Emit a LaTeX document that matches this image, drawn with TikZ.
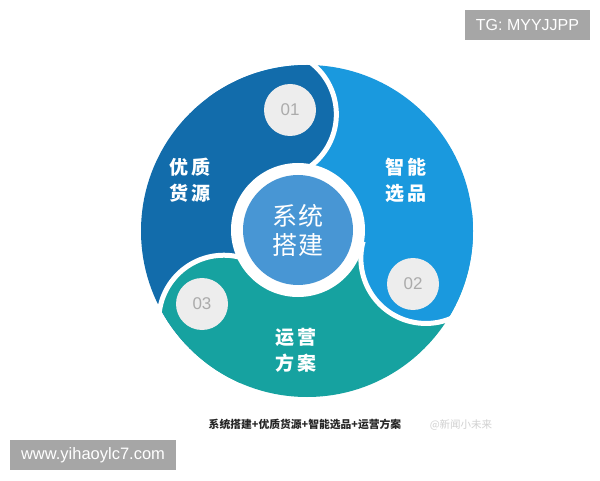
\documentclass[tikz,border=0pt]{standalone}
\usepackage{fontspec}
\setmainfont{Liberation Sans}
\newfontfamily\cjk{Noto Sans CJK SC}
\definecolor{segA}{HTML}{126CAB}
\definecolor{segB}{HTML}{1A99DE}
\definecolor{segC}{HTML}{16A2A0}
\definecolor{midblue}{HTML}{4896D4}
\definecolor{numfill}{HTML}{EDEDED}
\definecolor{numtext}{HTML}{ABABAB}
\definecolor{boxgray}{HTML}{A6A6A6}
\tikzset{
  sepline/.style={white, line width=5pt},
  numc/.style={circle, fill=numfill, minimum size=52pt, inner sep=0pt, text=numtext, font=\fontsize{17}{17}\selectfont},
  seglab/.style={text=white, align=center, inner sep=0pt, font=\cjk\bfseries\fontsize{19}{26}\selectfont},
  graybox/.style={fill=boxgray, text=white, inner sep=0pt, minimum height=30pt, font=\fontsize{16}{16}\selectfont},
}
\begin{document}
\begin{tikzpicture}[x=1pt,y=1pt]
\fill[white] (0,0) rectangle (600,480);
\useasboundingbox (0,0) rectangle (600,480);
\coordinate (C) at (307,249);
\coordinate (Q) at (298,250);
\coordinate (M1) at ([shift={(C)}]107:122);
\coordinate (M2) at ([shift={(C)}]-13:122);
\coordinate (M3) at ([shift={(C)}]227:122);
% segments
\begin{scope}
\clip (C) circle (166);
\fill[segA] (C) -- ([shift={(C)}]107:170) arc[start angle=107,end angle=227,radius=170] -- cycle;
\fill[segB] (C) -- ([shift={(C)}]-13:170) arc[start angle=-13,end angle=107,radius=170] -- cycle;
\fill[segC] (C) -- ([shift={(C)}]227:170) arc[start angle=227,end angle=347,radius=170] -- cycle;
\fill[segA] (M1) circle (65);
\fill[segB] (M2) circle (65);
\fill[segC] (M3) circle (65);
\end{scope}
% white separating curves
\draw[sepline] ([shift={(M1)}]60:65) arc[start angle=60,end angle=-75,radius=65];
\draw[sepline] ([shift={(M2)}]-60:65) arc[start angle=-60,end angle=-195,radius=65];
\draw[sepline] ([shift={(M3)}]180:65) arc[start angle=180,end angle=45,radius=65];
% centre
\fill[white] (Q) circle (67);
\node[circle, fill=midblue, minimum size=110pt, inner sep=0pt, text=white, align=center,
      font=\cjk\fontsize{25}{29}\selectfont] (hub) at (Q) {系\hspace{1pt}统\\搭\hspace{1pt}建};
% number circles
\node[numc] (n1) at (290,370) {01};
\node[numc] (n2) at (413,196) {02};
\node[numc] (n3) at (202,176) {03};
% labels
\node[seglab] (l1) at (190,300) {优\hspace{3pt}质\\货\hspace{3pt}源};
\node[seglab] (l2) at (406,300) {智\hspace{3pt}能\\选\hspace{3pt}品};
\node[seglab] (l3) at (296,130) {运\hspace{3pt}营\\方\hspace{3pt}案};
% caption
\node[font=\cjk\bfseries\fontsize{10.8}{12}\selectfont, text=black!85] (cap) at (305,56) {系统搭建+优质货源+智能选品+运营方案};
\node[font=\cjk\fontsize{10.5}{10}\selectfont, text=black!18] (wm) at (461,55) {@新闻小未来};
% boxes
\node[graybox, minimum width=125pt] (tg) at (527.5,455) {TG: MYYJJPP};
\node[graybox, minimum width=166pt, font=\fontsize{16.5}{16.5}\selectfont] (www) at (93,25) {www.yihaoylc7.com};
\end{tikzpicture}
\end{document}
